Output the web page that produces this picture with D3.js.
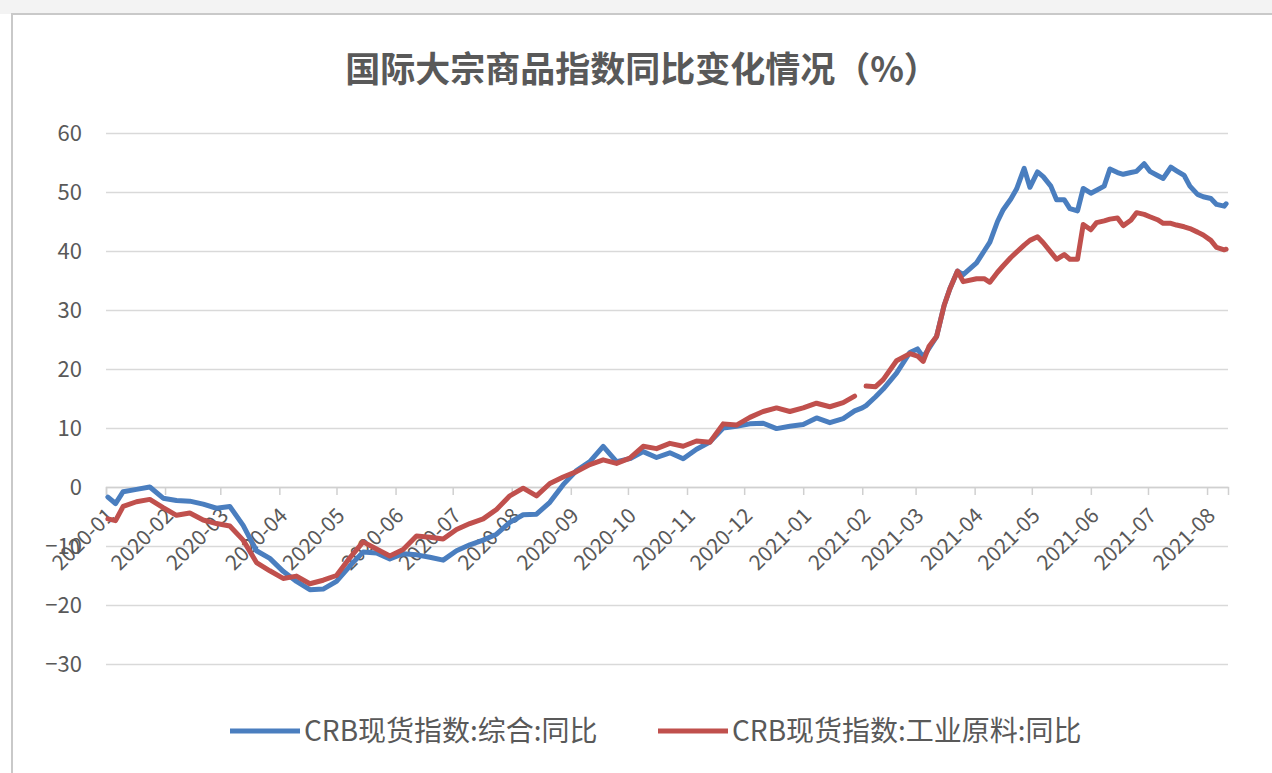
<!DOCTYPE html>
<html>
<head>
<meta charset="utf-8">
<script src="https://cdn.jsdelivr.net/npm/d3@7"></script>
<style>
	body { margin: 0; background: #ffffff; }
	svg text { font-family: "Microsoft YaHei", "Noto Sans CJK SC", sans-serif; }
</style>
</head>
<body>
<div id="chart"></div>
<script>
var chartTitle = "国际大宗商品指数同比变化情况（%）";
var seriesNames = ["CRB现货指数:综合:同比", "CRB现货指数:工业原料:同比"];
var yTicks = [-30, -20, -10, 0, 10, 20, 30, 40, 50, 60];

var dates = [
	"2020-01-02", "2020-01-06", "2020-01-10", "2020-01-17", "2020-01-24", "2020-01-31",
	"2020-02-07", "2020-02-14", "2020-02-21", "2020-02-28", "2020-03-06", "2020-03-13",
	"2020-03-20", "2020-03-27", "2020-04-03", "2020-04-10", "2020-04-17", "2020-04-24",
	"2020-05-01", "2020-05-08", "2020-05-15", "2020-05-22", "2020-05-29", "2020-06-05",
	"2020-06-12", "2020-06-19", "2020-06-26", "2020-07-03", "2020-07-10", "2020-07-17",
	"2020-07-24", "2020-07-31", "2020-08-07", "2020-08-14", "2020-08-21", "2020-08-28",
	"2020-09-04", "2020-09-11", "2020-09-18", "2020-09-25", "2020-10-02", "2020-10-09",
	"2020-10-16", "2020-10-23", "2020-10-30", "2020-11-06", "2020-11-13", "2020-11-20",
	"2020-11-27", "2020-12-04", "2020-12-11", "2020-12-18", "2020-12-25", "2021-01-01",
	"2021-01-08", "2021-01-15", "2021-01-22", "2021-01-28", "2021-02-01", "2021-02-03",
	"2021-02-08", "2021-02-12", "2021-02-19", "2021-02-26", "2021-03-02", "2021-03-05",
	"2021-03-08", "2021-03-12", "2021-03-16", "2021-03-19", "2021-03-23", "2021-03-26",
	"2021-04-02", "2021-04-06", "2021-04-09", "2021-04-13", "2021-04-16", "2021-04-20",
	"2021-04-23", "2021-04-27", "2021-04-30", "2021-05-04", "2021-05-07", "2021-05-11",
	"2021-05-14", "2021-05-18", "2021-05-21", "2021-05-25", "2021-05-28", "2021-06-01",
	"2021-06-04", "2021-06-08", "2021-06-11", "2021-06-15", "2021-06-18", "2021-06-22",
	"2021-06-25", "2021-06-29", "2021-07-02", "2021-07-06", "2021-07-09", "2021-07-13",
	"2021-07-16", "2021-07-20", "2021-07-23", "2021-07-27", "2021-07-30", "2021-08-03",
	"2021-08-06", "2021-08-10", "2021-08-11"
];

// CRB现货指数:综合:同比
var crbTotal = [
	-1.7, -2.8, -0.8, -0.4, 0.0, -1.9,
	-2.3, -2.4, -2.9, -3.6, -3.3, -6.5,
	-10.8, -12.1, -14.3, -16.0, -17.4, -17.3,
	-16.0, -13.4, -11.0, -11.2, -12.2, -11.3,
	-11.5, -11.9, -12.4, -10.8, -9.8, -9.0,
	-8.0, -6.0, -4.7, -4.6, -2.6, 0.4,
	2.8, 4.3, 6.9, 4.3, 4.8, 6.0,
	5.0, 5.8, 4.8, 6.4, 7.6, 10.0,
	10.3, 10.7, 10.8, 9.9, 10.3, 10.6,
	11.7, 10.9, 11.6, 12.9, 13.4, 13.8,
	15.3, 16.6, 19.3, 22.8, 23.4, 22.0,
	23.5, 25.5, 30.8, 33.6, 36.6, 36.0,
	38.0, 40.0, 41.5, 45.0, 47.0, 48.8,
	50.5, 54.0, 50.8, 53.4, 52.6, 51.0,
	48.7, 48.7, 47.2, 46.8, 50.6, 49.8,
	50.3, 51.0, 53.9, 53.3, 53.0, 53.3,
	53.5, 54.8, 53.5, 52.8, 52.3, 54.2,
	53.6, 52.8, 51.0, 49.6, 49.2, 48.9,
	47.9, 47.6, 48.0
];

// CRB现货指数:工业原料:同比
var crbIndustrial = [
	-5.4, -5.7, -3.3, -2.5, -2.1, -3.5,
	-4.8, -4.4, -5.6, -6.2, -6.6, -9.0,
	-12.8, -14.2, -15.5, -15.1, -16.4, -15.8,
	-15.0, -12.0, -9.3, -10.5, -11.7, -10.6,
	-8.3, -8.5, -8.8, -7.2, -6.2, -5.4,
	-3.8, -1.5, -0.2, -1.5, 0.6, 1.7,
	2.6, 3.8, 4.6, 4.0, 4.9, 6.9,
	6.5, 7.4, 6.9, 7.8, 7.6, 10.7,
	10.5, 11.8, 12.8, 13.4, 12.8, 13.4,
	14.2, 13.6, 14.3, 15.4, null, 17.1,
	17.0, 18.2, 21.4, 22.6, 22.2, 21.3,
	23.8, 25.5, 30.8, 33.6, 36.6, 34.8,
	35.3, 35.3, 34.7, 36.4, 37.5, 38.9,
	39.8, 41.0, 41.8, 42.4, 41.4, 39.8,
	38.6, 39.4, 38.6, 38.6, 44.5, 43.6,
	44.8, 45.1, 45.4, 45.6, 44.3, 45.2,
	46.5, 46.2, 45.8, 45.3, 44.7, 44.7,
	44.4, 44.1, 43.8, 43.2, 42.7, 41.8,
	40.6, 40.2, 40.3
];

var colors = ["#4a7ebf", "#c0504d"];

var width = 1272,
	height = 773,
	plot = { left: 106, right: 1228, top: 133, bottom: 664 };

var svgContainer, xScale, yScale;

function onLoad() {
	var parse = d3.timeParse("%Y-%m-%d");
	var parsedDates = dates.map(parse);

	svgContainer = d3.select("#chart")
		.append("svg")
		.attr("width", width)
		.attr("height", height);

	xScale = d3.scaleTime()
		.domain([parse("2020-01-01"), parse("2021-08-12")])
		.range([plot.left, plot.right]);
	yScale = d3.scaleLinear()
		.domain([yTicks[0], yTicks[yTicks.length - 1]])
		.range([plot.bottom, plot.top]);

	drawFrame();
	drawTitle();
	drawGrid();
	drawXAxis(parse);
	drawSeries(parsedDates, crbTotal, colors[0]);
	drawSeries(parsedDates, crbIndustrial, colors[1]);
	drawLegend();
}

///////////////////////////////////
////////////DRAWING////////////////
///////////////////////////////////

function drawFrame() {
	svgContainer.append("rect")
		.attr("x", 0).attr("y", 0)
		.attr("width", width).attr("height", 14)
		.style("fill", "#f3f3f3");
	svgContainer.append("rect")
		.attr("x", 12).attr("y", 14)
		.attr("width", width + 20).attr("height", height + 20)
		.style("fill", "#ffffff")
		.style("stroke", "#c9c9c9")
		.style("stroke-width", 2);
}

function drawTitle() {
	svgContainer.append("text")
		.attr("x", 642)
		.attr("y", 82)
		.attr("text-anchor", "middle")
		.style("font-size", "35px")
		.style("font-weight", "bold")
		.style("fill", "#595959")
		.text(chartTitle);
}

function drawGrid() {
	var yAxis = d3.axisLeft(yScale)
		.tickValues(yTicks)
		.tickSize(-(plot.right - plot.left))
		.tickPadding(24)
		.tickFormat(d3.format("d"));

	var g = svgContainer.append("g")
		.attr("transform", "translate(" + plot.left + ",0)")
		.call(yAxis);

	g.select(".domain").remove();
	g.selectAll(".tick line")
		.style("stroke", "#d9d9d9")
		.style("stroke-width", 1.5);
	g.selectAll(".tick text")
		.style("font-size", "22px")
		.style("fill", "#595959");
}

function drawXAxis(parse) {
	var months = d3.timeMonth.range(parse("2020-01-01"), parse("2021-08-02"));
	var xAxis = d3.axisBottom(xScale)
		.tickValues(months)
		.tickSize(8)
		.tickFormat(d3.timeFormat("%Y-%m"));

	var g = svgContainer.append("g")
		.attr("transform", "translate(0," + yScale(0) + ")")
		.call(xAxis);

	g.select(".domain")
		.style("stroke", "#d0d0d0")
		.style("stroke-width", 1.5);
	g.selectAll(".tick line")
		.style("stroke", "#d0d0d0")
		.style("stroke-width", 1.5);
	g.selectAll(".tick text")
		.attr("text-anchor", "end")
		.attr("transform", "translate(9,30) rotate(-45)")
		.attr("x", 0)
		.attr("y", 0)
		.attr("dy", 0)
		.style("font-size", "21px")
		.style("fill", "#595959");
}

function drawSeries(xs, values, color) {
	var points = xs.map(function (d, i) {
		return { x: d, y: values[i] };
	});
	var line = d3.line()
		.defined(function (p) { return p.y !== null; })
		.x(function (p) { return xScale(p.x); })
		.y(function (p) { return yScale(p.y); });

	svgContainer.append("path")
		.datum(points)
		.attr("d", line)
		.style("fill", "none")
		.style("stroke", color)
		.style("stroke-width", 5)
		.style("stroke-linejoin", "round")
		.style("stroke-linecap", "round");
}

function drawLegend() {
	var items = [
		{ x: 230, name: seriesNames[0], color: colors[0] },
		{ x: 658, name: seriesNames[1], color: colors[1] }
	];
	items.forEach(function (item) {
		svgContainer.append("line")
			.attr("x1", item.x).attr("x2", item.x + 70)
			.attr("y1", 731).attr("y2", 731)
			.style("stroke", item.color)
			.style("stroke-width", 5);
		svgContainer.append("text")
			.attr("x", item.x + 74)
			.attr("y", 741)
			.style("font-size", "28px")
			.style("fill", "#595959")
			.text(item.name);
	});
}

onLoad();
</script>
</body>
</html>
